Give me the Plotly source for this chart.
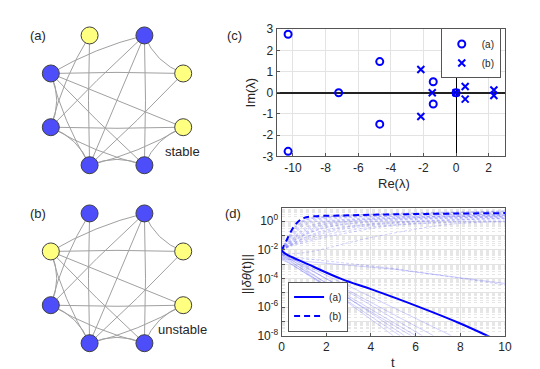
import numpy as np
import plotly.graph_objects as go

# ---------------- (a) / (b) networks ----------------
# 8 nodes on a ring, clockwise starting from the top-left node
ring_names = ["top-left", "top-right", "right-up", "right-low",
              "bottom-right", "bottom-left", "left-low", "left-up"]
yellow_a = [1, 0, 1, 1, 0, 0, 0, 0]   # 1 = yellow node, 0 = blue node
yellow_b = [0, 0, 1, 1, 0, 0, 0, 1]
edges = [(0, 5), (0, 6), (1, 7), (1, 6), (1, 5), (1, 4), (1, 2),
         (7, 2), (7, 3), (7, 4), (7, 5), (7, 6), (2, 5),
         (6, 3), (6, 4), (6, 5), (3, 5), (3, 4), (5, 4)]

# ---------------- (c) eigenvalues ----------------
re_a = [-10.3, -10.3, -7.2, -4.68, -4.68, -1.4, -1.4, 0.0]
im_a = [2.76, -2.76, 0.0, 1.47, -1.48, 0.52, -0.53, 0.0]
re_b = [-2.16, -2.16, -1.46, 0.0, 0.56, 0.56, 2.32, 2.32]
im_b = [1.1, -1.12, 0.0, 0.0, 0.3, -0.3, 0.13, -0.13]

# ---------------- (d) perturbation norms (log10 values) ----------------
t_a = [0, 0.2, 1.2, 2.7, 4.0, 6.0, 8.0, 9.2, 9.6]
log_a = [-2.05, -2.3, -3.02, -4.05, -4.75, -5.9, -7.15, -8.0, -8.3]
t_b = [0, 0.2, 0.5, 0.8, 1.1, 2.7, 5.0, 10]
log_b = [-2.05, -1.4, -0.5, 0.05, 0.28, 0.4, 0.48, 0.57]

# faint single-run curves, unstable network (dashed)
up_t = [0, 0.5, 1, 2, 3, 5, 10]
up_logs = [
    [-2.0, -0.6, 0.1, 0.3, 0.4, 0.5, 0.65],
    [-2.0, -0.9, -0.1, 0.25, 0.35, 0.45, 0.6],
    [-2.05, -1.1, -0.3, 0.1, 0.25, 0.35, 0.5],
    [-2.0, -1.2, -0.5, 0.0, 0.15, 0.3, 0.45],
    [-2.1, -1.3, -0.7, -0.15, 0.05, 0.2, 0.4],
    [-2.0, -1.4, -0.9, -0.3, -0.05, 0.15, 0.35],
    [-2.05, -1.5, -1.0, -0.45, -0.2, 0.05, 0.3],
    [-2.0, -1.55, -1.15, -0.6, -0.35, -0.05, 0.25],
    [-2.1, -1.6, -1.3, -0.8, -0.5, -0.15, 0.2],
    [-2.0, -1.65, -1.4, -0.95, -0.65, -0.25, 0.1],
    [-2.05, -1.7, -1.5, -1.1, -0.8, -0.3, 0.0],
    [-2.0, -1.0, -0.2, 0.2, 0.3, 0.4, 0.55],
    [-2.0, -0.8, 0.0, 0.3, 0.4, 0.5, 0.7],
    [-2.0, -1.35, -0.8, -0.2, 0.0, 0.2, 0.4],
    [-2.0, -1.25, -0.6, -0.05, 0.1, 0.25, 0.45],
    [-2.05, -1.45, -0.95, -0.4, -0.15, 0.1, 0.3],
    [-2.0, -1.6, -1.2, -0.7, -0.4, -0.1, 0.2],
    [-2.0, -0.7, 0.05, 0.35, 0.45, 0.55, 0.72],
]
slow_up_t = [0, 1, 2, 3, 4.6, 7.6, 10]
slow_up_log = [-2.3, -2.2, -1.9, -1.5, -0.95, -0.2, -0.05]
slow_down_t = [0, 1, 5, 10]
slow_down_logs = [[-2.35, -2.6, -3.3, -4.45], [-2.6, -2.8, -3.35, -4.35]]

# faint single-run curves, stable network (solid)
down_t = [
    [0, 0.3, 5.0], [0, 0.3, 5.3], [0, 0.3, 5.5], [0, 0.3, 5.8],
    [0, 0.3, 6.0], [0, 0.3, 6.3], [0, 0.3, 6.8], [0, 0.3, 7.6],
]
down_logs = [
    [-2.4, -2.65, -8], [-2.6, -2.85, -8], [-2.3, -2.55, -8], [-2.7, -2.9, -8],
    [-2.5, -2.75, -8], [-2.2, -2.45, -8], [-2.4, -2.6, -8], [-2.3, -2.5, -8],
]

W, H = 540, 369
FONT = "Liberation Sans, Arial, sans-serif"
TXT = "#262626"
BLUE_NODE = "rgb(77,77,250)"
YELLOW_NODE = "rgb(255,255,128)"
FAINT = "rgba(40,40,255,0.28)"


def px(x):
    return x / W


def py(y):
    return 1 - y / H


fig = go.Figure()

# ---- networks ----
R = 73.0
shapes = []
angles = np.deg2rad(112.5 - 45 * np.arange(8))
nx, ny = np.cos(angles), np.sin(angles)
bend = {1: -0.18, 2: 0.15, 3: 0.08, 4: 0.0}
for k, (cy, yellow, ax) in enumerate([(88.7, yellow_a, "3"), (273.7, yellow_b, "4")]):
    for i, j in edges:
        d = min((i - j) % 8, (j - i) % 8)
        mx, my = (nx[i] + nx[j]) / 2, (ny[i] + ny[j]) / 2
        cx_, cy_ = mx * (1 + bend[d]), my * (1 + bend[d])
        shapes.append(dict(
            type="path", xref="x" + ax, yref="y" + ax, layer="below",
            path=f"M {nx[i]},{ny[i]} Q {cx_},{cy_} {nx[j]},{ny[j]}",
            line=dict(color="#a0a0a0", width=1)))
    fig.add_trace(go.Scatter(
        x=nx, y=ny, mode="markers", xaxis="x" + ax, yaxis="y" + ax, showlegend=False,
        marker=dict(size=17, color=[YELLOW_NODE if v else BLUE_NODE for v in yellow],
                    line=dict(color="#404040", width=1)),
        hoverinfo="skip"))
    fig.update_layout(**{
        "xaxis" + ax: dict(domain=[0, px(216)], range=[-108 / R, 108 / R], visible=False),
        "yaxis" + ax: dict(domain=[py(cy + 91.3), py(cy - 88.7)],
                           range=[-91.3 / R, 88.7 / R], visible=False),
    })

# ---- (c) eigenvalues ----
fig.add_trace(go.Scatter(
    x=re_a, y=im_a, mode="markers", name="(a)", xaxis="x", yaxis="y",
    marker=dict(symbol="circle-open", size=7, color="blue", line=dict(width=2))))
fig.add_trace(go.Scatter(
    x=re_b, y=im_b, mode="markers", name="(b)", xaxis="x", yaxis="y",
    marker=dict(symbol="x-thin-open", size=7, color="blue", line=dict(width=2))))

# ---- (d) norms ----
for lg in up_logs:
    fig.add_trace(go.Scatter(
        x=up_t, y=10 ** np.array(lg), mode="lines", xaxis="x2", yaxis="y2",
        line=dict(color=FAINT, width=0.8, dash="3px,2px", shape="spline"),
        showlegend=False, hoverinfo="skip"))
fig.add_trace(go.Scatter(
    x=slow_up_t, y=10 ** np.array(slow_up_log), mode="lines", xaxis="x2", yaxis="y2",
    line=dict(color=FAINT, width=0.8, dash="3px,2px", shape="spline"),
    showlegend=False, hoverinfo="skip"))
for lg, ds in zip(slow_down_logs, ["3px,2px", "solid"]):
    fig.add_trace(go.Scatter(
        x=slow_down_t, y=10 ** np.array(lg), mode="lines", xaxis="x2", yaxis="y2",
        line=dict(color=FAINT, width=0.8, dash=ds),
        showlegend=False, hoverinfo="skip"))
for tt, lg in zip(down_t, down_logs):
    fig.add_trace(go.Scatter(
        x=tt, y=10 ** np.array(lg), mode="lines", xaxis="x2", yaxis="y2",
        line=dict(color=FAINT, width=0.8),
        showlegend=False, hoverinfo="skip"))
fig.add_trace(go.Scatter(
    x=t_a, y=10 ** np.array(log_a), mode="lines", name="(a)", xaxis="x2", yaxis="y2",
    legend="legend2", line=dict(color="blue", width=2, shape="spline")))
fig.add_trace(go.Scatter(
    x=t_b, y=10 ** np.array(log_b), mode="lines", name="(b)", xaxis="x2", yaxis="y2",
    legend="legend2", line=dict(color="blue", width=2, dash="6px,4px", shape="spline")))

axis_common = dict(
    showline=True, mirror=True, linecolor="#555555", linewidth=1,
    ticks="inside", ticklen=3, tickcolor="#555555",
    gridcolor="#e3e3e3", gridwidth=1,
    tickfont=dict(family=FONT, size=12, color=TXT),
)

legend_common = dict(
    bgcolor="white", bordercolor="#555555", borderwidth=1,
    font=dict(family=FONT, size=10, color=TXT), itemwidth=30,
    tracegroupgap=0,
)

fig.update_layout(
    width=W, height=H,
    margin=dict(l=0, r=0, t=0, b=0),
    paper_bgcolor="white", plot_bgcolor="white",
    font=dict(family=FONT, size=12, color=TXT),
    shapes=shapes,
    xaxis=dict(domain=[px(270.7), px(503.3)], anchor="y", range=[-11, 3],
               tickvals=[-10, -8, -6, -4, -2, 0, 2], ticktext=["-10", "-8", "-6", "-4", "-2", "0", "2"],
               zeroline=True, zerolinecolor="black", zerolinewidth=1.2, **axis_common),
    yaxis=dict(domain=[py(147), py(14.7)], anchor="x", range=[-3, 3],
               tickvals=[-3, -2, -1, 0, 1, 2, 3], ticktext=["-3", "-2", "-1", "0", "1", "2", "3"],
               zeroline=True, zerolinecolor="#222222", zerolinewidth=1.8, **axis_common),
    xaxis2=dict(domain=[px(275.7), px(503.3)], anchor="y2", range=[0, 10],
                tickvals=[0, 2, 4, 6, 8, 10], zeroline=False, **axis_common),
    yaxis2=dict(domain=[py(333.3), py(200.7)], anchor="x2", type="log", range=[-8, 0.92],
                tickvals=[10.0 ** k for k in range(-8, 1)],
                ticktext=["10<sup>-8</sup>", "", "10<sup>-6</sup>", "", "10<sup>-4</sup>", "",
                          "10<sup>-2</sup>", "", "10<sup>0</sup>"],
                minor=dict(dtick="D1", showgrid=True, gridcolor="#e6e6e6", griddash="dot",
                           ticks=""),
                zeroline=False, **axis_common),
    legend=dict(x=px(499), y=py(14), xanchor="right", yanchor="top", **legend_common),
    legend2=dict(x=px(282.3), y=py(329), xanchor="left", yanchor="bottom", **legend_common),
)

labels = [
    ("(a)", 28, 21.7, 0), ("(b)", 28, 206.5, 0), ("(c)", 228, 21.7, 0), ("(d)", 226.5, 206.5, 0),
    ("stable", 175, 141.7, 0), ("unstable", 175, 326.7, 0),
    ("Im(λ)", 245, 80, -90), ("Re(λ)", 390, 175, 0),
    ("||<i>δθ</i>(t)||", 240, 270, -90), ("t", 389.3, 361, 0),
]
for text, x, y, ang in labels:
    fig.add_annotation(text=text, x=px(x), y=py(y), xref="paper", yref="paper",
                       showarrow=False, textangle=ang,
                       font=dict(family=FONT, size=13, color=TXT),
                       xanchor="center", yanchor="middle")

fig.write_html("out.html")
